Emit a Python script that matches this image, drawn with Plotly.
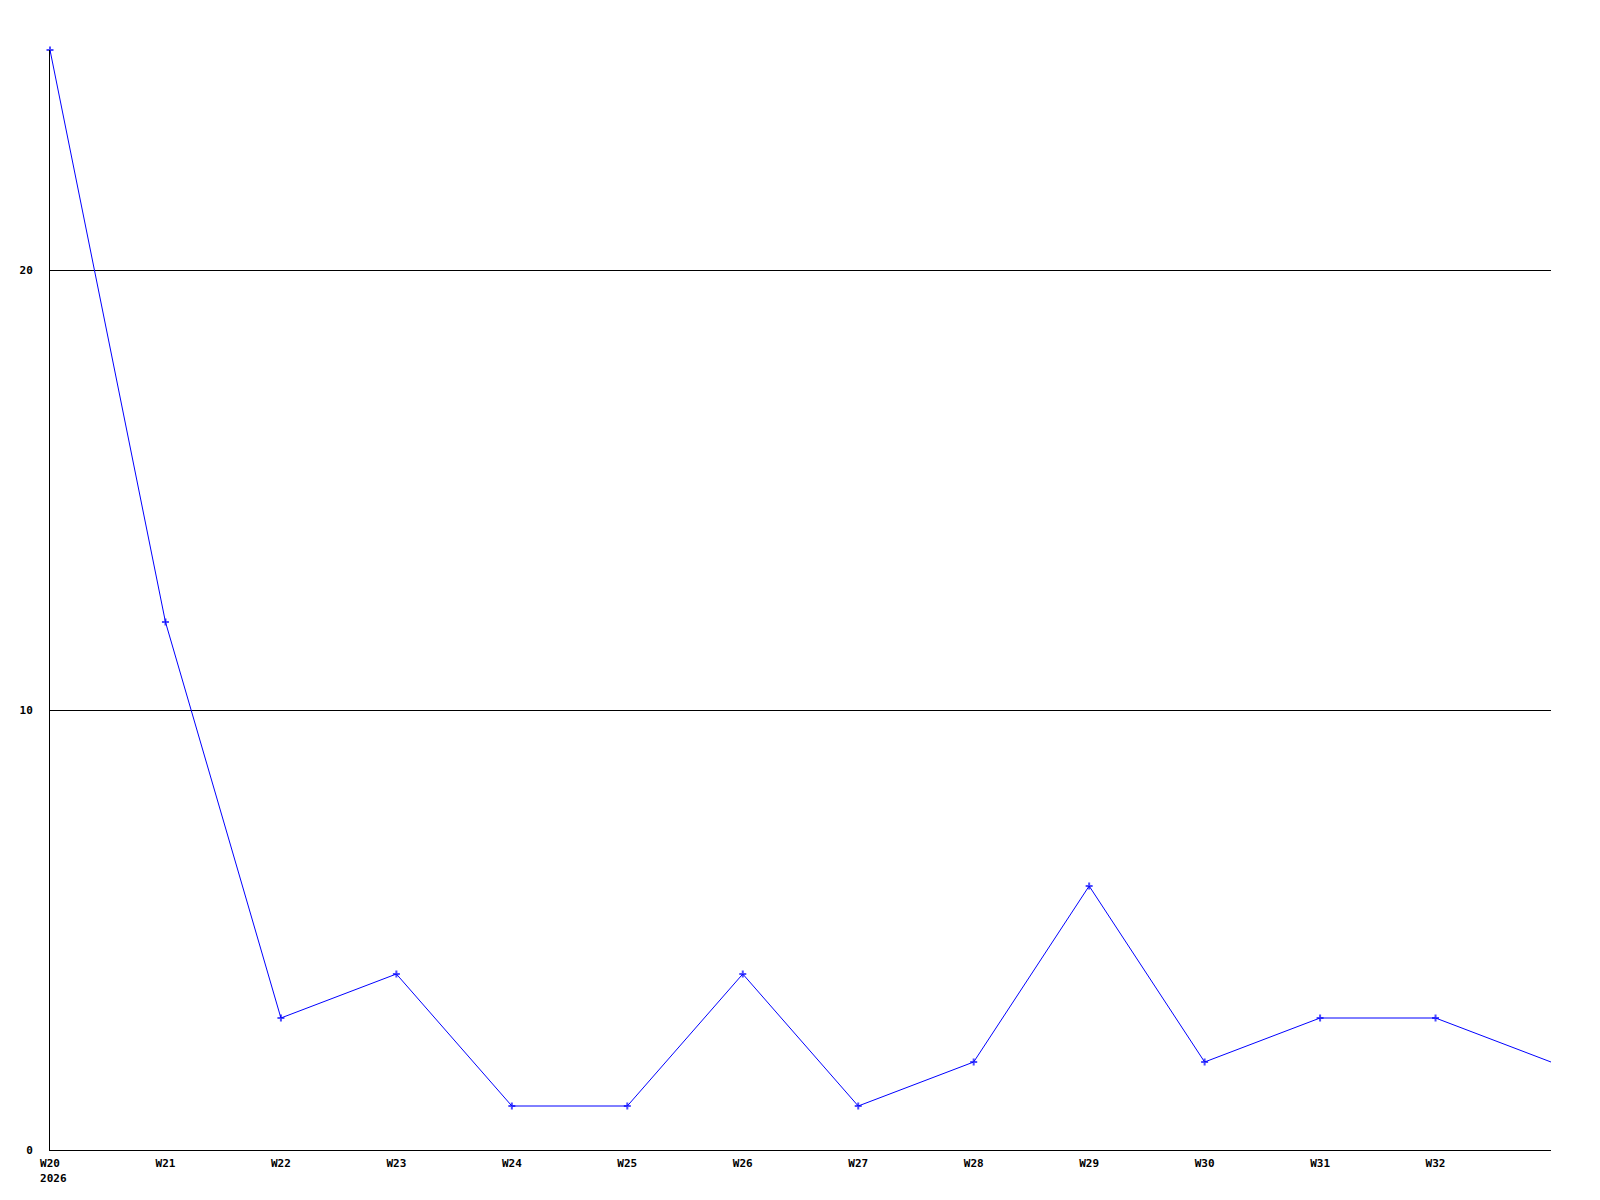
import plotly.graph_objects as go

weeks = ["W20", "W21", "W22", "W23", "W24", "W25", "W26", "W27", "W28", "W29", "W30", "W31", "W32", "W33"]
values = [25, 12, 3, 4, 1, 1, 4, 1, 2, 6, 2, 3, 3, 2]
year_label = "2026"
y_ticks = [0, 10, 20]

x_idx = list(range(len(weeks)))
tick_text = [weeks[0] + "<br>\u00a0" + year_label] + weeks[1:-1]
marker_sizes = [5] * (len(weeks) - 1) + [0]

fig = go.Figure()
fig.add_trace(go.Scatter(
    x=x_idx, y=values, mode="lines+markers",
    line=dict(color="#0000ff", width=1),
    marker=dict(symbol="cross-thin", size=marker_sizes, color="#0000ff",
                line=dict(color="#0000ff", width=2)),
    showlegend=False, hoverinfo="skip", cliponaxis=False,
))

fig.update_layout(
    width=1600, height=1200,
    margin=dict(l=42, r=57, t=42, b=58, autoexpand=False),
    paper_bgcolor="white", plot_bgcolor="white",
    font=dict(family="DejaVu Sans Mono", size=11, color="black"),
)
fig.update_xaxes(
    range=[0, len(weeks) - 1],
    tickmode="array", tickvals=x_idx[:-1], ticktext=tick_text,
    showgrid=False, zeroline=False, automargin=False,
    showline=True, linecolor="black", linewidth=1,
    ticks="outside", ticklen=3, tickcolor="rgba(0,0,0,0)",
    tickfont=dict(family="DejaVu Sans Mono", size=11, weight="bold"),
)
fig.update_yaxes(
    range=[0, 25],
    tickmode="array", tickvals=y_ticks,
    showgrid=True, gridcolor="black", gridwidth=1,
    zeroline=False, automargin=False,
    showline=True, linecolor="black", linewidth=1,
    ticks="outside", ticklen=14, tickcolor="rgba(0,0,0,0)",
    tickfont=dict(family="DejaVu Sans Mono", size=11, weight="bold"),
)

fig.write_html("out.html")
